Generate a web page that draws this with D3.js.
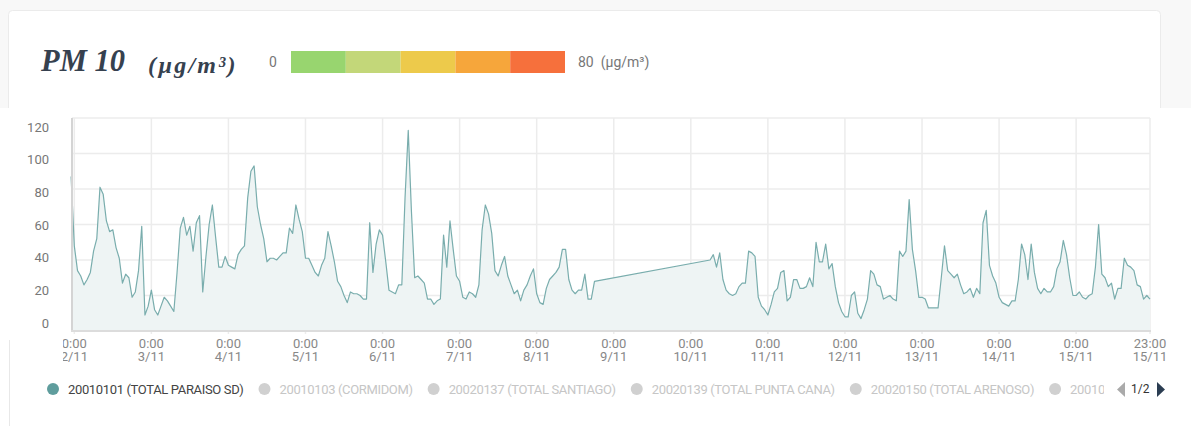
<!DOCTYPE html>
<html>
<head>
<meta charset="utf-8">
<script src="https://cdn.jsdelivr.net/npm/d3@7"></script>
<style>
  body { margin: 0; background: #f8f8f8; font-family: Roboto, "Noto Sans", sans-serif; }
  svg { display: block; }
</style>
</head>
<body>
<div class="container"></div>
<script>
const WIDTH = 1191;
const HEIGHT = 426;

// hourly PM10 readings, station 20010101 (TOTAL PARAISO SD)
const seg1Start = new Date(2023, 10, 1, 23);   // 1/11 23:00
const seg1Values = [87, 48, 34, 31, 26, 29, 33, 45, 52, 81, 77,
  62, 56, 57, 47, 41, 27, 32, 30, 19, 22,
  34, 59, 9, 14, 23, 12, 9, 14, 19, 17,
  14, 11, 33, 58, 64, 54, 59, 45, 61, 65,
  22, 42, 60, 71, 53, 36, 36, 42, 37, 36,
  35, 43, 46, 48, 75, 90, 93, 70, 60, 52,
  39, 41, 41, 40, 42, 44, 44, 58, 55, 71,
  63, 56, 41, 41, 37, 33, 31, 37, 41, 56,
  48, 39, 28, 25, 20, 16, 22, 21, 21, 20,
  18, 18, 61, 33, 49, 57, 54, 39, 23, 22,
  21, 26, 26, 75, 113, 67, 30, 31, 29, 27,
  18, 18, 15, 17, 18, 54, 36, 62, 46, 31,
  28, 19, 18, 22, 21, 19, 26, 57, 71, 66,
  55, 34, 31, 37, 42, 31, 26, 21, 23, 17,
  23, 26, 31, 35, 21, 16, 15, 24, 29, 31,
  33, 36, 46, 46, 29, 23, 21, 23, 23, 32,
  18, 18, 28];

const seg2Start = new Date(2023, 10, 10, 6);   // 10/11 6:00 (after data gap)
const seg2Values = [40, 43, 36, 44, 29, 23, 21, 20, 21, 25,
  27, 27, 45, 44, 42, 19, 14, 12, 9, 15,
  22, 24, 33, 34, 17, 19, 29, 29, 24, 24,
  25, 30, 25, 50, 39, 39, 49, 35, 38, 25,
  16, 11, 8, 8, 20, 22, 10, 7, 12, 18,
  34, 32, 26, 25, 18, 19, 20, 18, 17, 45,
  42, 45, 74, 46, 34, 19, 19, 18, 13, 13,
  13, 13, 30, 48, 34, 32, 30, 32, 26, 21,
  22, 24, 19, 24, 21, 61, 68, 37, 31, 27,
  19, 16, 15, 14, 17, 17, 29, 49, 43, 29,
  49, 33, 24, 21, 24, 22, 22, 25, 35, 39,
  51, 43, 30, 20, 20, 22, 19, 18, 20, 21,
  36, 60, 32, 30, 25, 27, 18, 24, 24, 41,
  37, 36, 34, 26, 25, 18, 20, 18];

const xStart = new Date(2023, 10, 2, 0);
const xEnd = new Date(2023, 10, 15, 23);
const yTicks = [0, 20, 40, 60, 80, 100, 120];

const scaleColors = ["#98d56f", "#c3d779", "#edca4b", "#f6a63b", "#f6703c"];
const scaleMin = "0";
const scaleMax = "80  (µg/m³)";

const legendNames = ["20010101 (TOTAL PARAISO SD)", "20010103 (CORMIDOM)",
  "20020137 (TOTAL SANTIAGO)", "20020139 (TOTAL PUNTA CANA)",
  "20020150 (TOTAL ARENOSO)", "20010"];
const legendActive = [true, false, false, false, false, false];

var toPoints = function (start, values) {
  return values.map(function (v, i) { return { t: d3.timeHour.offset(start, i), v: v }; });
};
var data = toPoints(seg1Start, seg1Values).concat(toPoints(seg2Start, seg2Values));

var svg = d3.select('.container').append('svg')
  .attr('width', WIDTH)
  .attr('height', HEIGHT);

// panels
svg.append('rect')
  .attr('x', 8.5).attr('y', 10.5).attr('width', 1152).attr('height', 120)
  .attr('rx', 4)
  .attr('fill', '#fff').attr('stroke', '#ebebeb');
svg.append('rect')
  .attr('x', 0).attr('y', 108).attr('width', WIDTH).attr('height', HEIGHT - 108)
  .attr('fill', '#fff');
svg.append('line')
  .attr('x1', 9.5).attr('x2', 9.5).attr('y1', 340).attr('y2', HEIGHT)
  .attr('stroke', '#e8e8e8');

// title
var title = svg.append('g').attr('fill', '#36414f')
  .style('font-family', '"Liberation Serif", "DejaVu Serif", serif')
  .style('font-style', 'italic').style('font-weight', 'bold');
title.append('text').attr('x', 41).attr('y', 71).style('font-size', '30.5px').text('PM 10');
title.append('text').attr('x', 148).attr('y', 73).style('font-size', '24px')
  .style('letter-spacing', '2.2px').text('(µg/m³)');

// colour scale bar
var band = d3.scaleBand().domain(d3.range(scaleColors.length)).range([291, 565]);
svg.selectAll('rect.swatch').data(scaleColors).enter().append('rect')
  .attr('class', 'swatch')
  .attr('x', function (d, i) { return band(i); })
  .attr('y', 51).attr('width', band.bandwidth()).attr('height', 22)
  .attr('fill', function (d) { return d; });
svg.append('text').attr('x', 273).attr('y', 67).attr('text-anchor', 'middle')
  .attr('fill', '#777').style('font-size', '14px').text(scaleMin);
svg.append('text').attr('x', 578).attr('y', 67)
  .attr('fill', '#777').style('font-size', '14px')
  .attr('xml:space', 'preserve').text(scaleMax);

// scales
var xScale = d3.scaleTime().domain([xStart, xEnd]).range([74.3, 1150]);
var yScale = d3.scaleLinear().domain([0, 120]).range([331, 118]);
// the tick labels sit on a slightly tighter spacing than the grid
var yLabelScale = d3.scaleLinear().domain([0, 120]).range([323, 127]);

var dayTicks = d3.timeDay.range(xStart, xEnd).concat([xEnd]);

// grid
var grid = svg.append('g');
grid.selectAll('line.h').data(yTicks.slice(1)).enter().append('line')
  .attr('x1', 72).attr('x2', 1150)
  .attr('y1', function (d) { return yScale(d); })
  .attr('y2', function (d) { return yScale(d); })
  .attr('stroke', '#ececec').attr('stroke-width', 1.5);
grid.selectAll('line.v').data(dayTicks).enter().append('line')
  .attr('x1', function (d) { return xScale(d); })
  .attr('x2', function (d) { return xScale(d); })
  .attr('y1', yScale(120)).attr('y2', yScale(0) + 3)
  .attr('stroke', '#ececec').attr('stroke-width', 1.5);

// area + line
var area = d3.area()
  .x(function (d) { return xScale(d.t); })
  .y0(yScale(0))
  .y1(function (d) { return yScale(d.v); });
var line = d3.line()
  .x(function (d) { return xScale(d.t); })
  .y(function (d) { return yScale(d.v); });

svg.append('path').datum(data).attr('d', area).attr('fill', '#eef4f4');
svg.append('path').datum(data).attr('d', line)
  .attr('fill', 'none').attr('stroke', '#79adad').attr('stroke-width', 1.2)
  .attr('stroke-linejoin', 'round');

// axis lines
svg.append('line').attr('x1', 72).attr('x2', 72).attr('y1', yScale(120)).attr('y2', yScale(0) + 1)
  .attr('stroke', '#d4d4d4').attr('stroke-width', 2);
svg.append('line').attr('x1', 71).attr('x2', 1151).attr('y1', yScale(0)).attr('y2', yScale(0))
  .attr('stroke', '#dcdcdc').attr('stroke-width', 2);

// y labels
var yAxis = d3.axisLeft(yLabelScale).tickValues(yTicks).tickSize(0).tickPadding(0);
var yg = svg.append('g').attr('transform', 'translate(49,0)').call(yAxis);
yg.select('.domain').remove();
yg.selectAll('text').attr('fill', '#777').style('font-size', '13px')
  .style('font-family', 'Roboto, sans-serif');

// x labels (two lines)
svg.append('clipPath').attr('id', 'xclip').append('rect')
  .attr('x', 63).attr('y', 330).attr('width', 1128).attr('height', 40);
var fmtTime = d3.timeFormat('%-H:%M');
var fmtDay = d3.timeFormat('%-d/%m');
var xg = svg.append('g').attr('clip-path', 'url(#xclip)')
  .style('font-size', '13px').attr('fill', '#888').attr('text-anchor', 'middle');
var xl = xg.selectAll('g').data(dayTicks).enter().append('g')
  .attr('transform', function (d) { return 'translate(' + xScale(d) + ',0)'; });
xl.append('text').attr('y', 348).text(fmtTime);
xl.append('text').attr('y', 361).text(fmtDay);

// legend
svg.append('clipPath').attr('id', 'lclip').append('rect')
  .attr('x', 0).attr('y', 370).attr('width', 1104).attr('height', 40);
var legend = svg.append('g').attr('clip-path', 'url(#lclip)')
  .style('font-size', '13px').style('letter-spacing', '-0.35px');
var lx = 53;
legendNames.forEach(function (name, i) {
  var g = legend.append('g').attr('transform', 'translate(' + lx + ',389)');
  g.append('circle').attr('r', 6)
    .attr('fill', legendActive[i] ? '#5f9d9d' : '#d0d0d0');
  var t = g.append('text').attr('x', 15).attr('y', 4.5)
    .attr('fill', legendActive[i] ? '#444' : '#c6c6c6').text(name);
  lx += 15 + t.node().getComputedTextLength() + 21;
});
svg.append('path').attr('d', 'M1125,382 L1117,389.5 L1125,397 Z').attr('fill', '#aaa');
svg.append('text').attr('x', 1131).attr('y', 393).style('font-size', '12px')
  .attr('fill', '#333').text('1/2');
svg.append('path').attr('d', 'M1157,382 L1165,389.5 L1157,397 Z').attr('fill', '#2b3d52');
</script>
</body>
</html>
